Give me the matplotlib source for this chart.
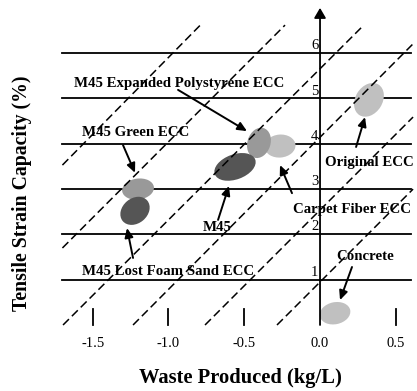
import matplotlib
matplotlib.use("Agg")
import matplotlib.pyplot as plt
from matplotlib.patches import Ellipse
from matplotlib.transforms import ScaledTranslation

plt.rcParams['font.family'] = ['Liberation Serif', 'DejaVu Serif']
plt.rcParams['lines.scale_dashes'] = False

# axis ticks
x_ticks = [-1.5, -1.0, -0.5, 0.0, 0.5]
x_tick_labels = ["-1.5", "-1.0", "-0.5", "0.0", "0.5"]
y_ticks = [1, 2, 3, 4, 5, 6]
grid_levels = [0, 1, 2, 3, 4, 5, 6]

# dashed diagonal guide lines (x0, y0, x1, y1)
guide_x0 = [-1.696, -1.70, -1.70, -1.234, -0.759, -0.284]
guide_y0 = [0.0, 1.70, 3.53, 0.0, 0.0, 0.0]
guide_x1 = [0.277, -0.231, -0.79, 0.627, 0.614, 0.614]
guide_y1 = [6.58, 6.62, 6.62, 6.25, 4.59, 3.0]

# materials: waste produced, tensile strain capacity
names = ["Carpet Fiber ECC", "M45 Expanded Polystyrene ECC", "M45",
         "M45 Green ECC", "M45 Lost Foam Sand ECC", "Original ECC", "Concrete"]
waste = [-0.264, -0.403, -0.561, -1.201, -1.221, 0.323, 0.099]
strain = [3.95, 4.02, 3.49, 3.00, 2.52, 4.97, 0.26]
shade = ["#c0c0c0", "#999999", "#555555", "#999999", "#555555", "#c0c0c0", "#c0c0c0"]
# spread of each blob (px) and tilt
ell_w = [31, 31, 43, 32, 32, 36, 31]
ell_h = [23, 23, 25, 21, 25, 27, 22]
ell_ang = [5, 72, 20, 8, 40, 58, 12]

# label placement and arrow endpoints
lab_x = [0.211, -0.931, -0.680, -1.215, -1.003, 0.323, 0.297]
lab_y = [2.56, 5.34, 2.16, 4.24, 1.19, 3.58, 1.52]
arr_x0 = [-0.185, -0.937, -0.673, -1.300, -1.234, 0.238, 0.211]
arr_y0 = [2.91, 5.19, 2.32, 3.97, 1.48, 3.93, 1.28]
arr_x1 = [-0.264, -0.482, -0.601, -1.221, -1.274, 0.297, 0.132]
arr_y1 = [3.53, 4.28, 3.07, 3.36, 2.14, 4.59, 0.55]

fig = plt.figure(figsize=(4.17, 3.91), dpi=100)
ax = fig.add_axes([0, 0, 1, 1])
ax.set_xlim(-2.112, 0.640)
ax.set_ylim(-1.457, 7.174)
ax.axis('off')

# horizontal grid lines
for g in grid_levels[1:]:
    ax.plot([-1.70, 0.60], [g, g], color='black', lw=1.3, zorder=1)

# blobs
for i in range(len(names)):
    tr = fig.dpi_scale_trans + ScaledTranslation(waste[i], strain[i], ax.transData)
    e = Ellipse((0, 0), ell_w[i] / 100, ell_h[i] / 100, angle=ell_ang[i],
                facecolor=shade[i], edgecolor='none', transform=tr, zorder=2)
    ax.add_patch(e)

# dashed guides
for i in range(len(guide_x0)):
    ax.plot([guide_x0[i], guide_x1[i]], [guide_y0[i], guide_y1[i]],
            color='black', lw=1.1, dashes=(6, 3), zorder=3)

# axes with arrows
ax.annotate("", xy=(0.645, 0), xytext=(-1.70, 0),
            arrowprops=dict(arrowstyle='-|>,head_length=0.6,head_width=0.35',
                            color='black', lw=1.3, shrinkA=0, shrinkB=0), zorder=4)
ax.annotate("", xy=(0, 7.0), xytext=(0, 0),
            arrowprops=dict(arrowstyle='-|>,head_length=0.6,head_width=0.35',
                            color='black', lw=1.3, shrinkA=0, shrinkB=0), zorder=4)

for t, lab in zip(x_ticks, x_tick_labels):
    if t != 0.0:
        ax.plot([t, t], [0, 0.35], color='black', lw=1.3, zorder=4)
    ax.text(t, -0.40, lab, ha='center', va='center', fontsize=10.5)

for t in y_ticks:
    ax.text(-0.012, t + 0.02, str(t), ha='right', va='bottom', fontsize=10.5)

# labels and arrows
for i in range(len(names)):
    ax.text(lab_x[i], lab_y[i], names[i], ha='center', va='center',
            fontsize=10.7, fontweight='bold', zorder=5)
    ax.annotate("", xy=(arr_x1[i], arr_y1[i]), xytext=(arr_x0[i], arr_y0[i]),
                arrowprops=dict(arrowstyle='-|>,head_length=0.55,head_width=0.25',
                                color='black', lw=1.4, shrinkA=0, shrinkB=0), zorder=5)

ax.text(-0.528, -1.17, "Waste Produced (kg/L)", ha='center', va='center',
        fontsize=14.8, fontweight='bold')
ax.text(-1.967, 2.91, "Tensile Strain Capacity (%)", ha='center', va='center',
        rotation=90, fontsize=14.2, fontweight='bold')

fig.savefig("out.png", dpi=100)
